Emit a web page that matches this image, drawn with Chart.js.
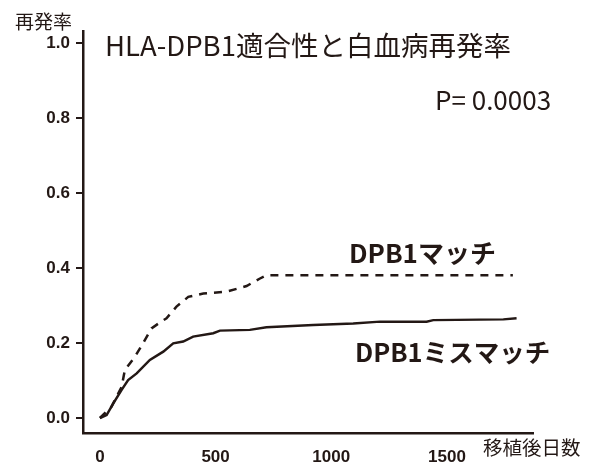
<!DOCTYPE html>
<html lang="ja">
<head>
  <meta charset="UTF-8" />
  <title>HLA-DPB1適合性と白血病再発率</title>
  <style>
    body { margin: 0; background: white; }
    #wrap { width: 593px; height: 463px; position: relative; }
  </style>
</head>
<body>
  <div id="wrap"><canvas id="chartCanvas"></canvas></div>

  <script src="https://cdn.jsdelivr.net/npm/chart.js"></script>
  <script>
    // data
    const matchDays = [0, 50, 94, 108, 151, 187, 223, 260, 288, 331, 382, 447, 548, 634, 692, 720, 1785];
    const matchRate = [0, 0.03, 0.083, 0.128, 0.163, 0.2, 0.239, 0.255, 0.266, 0.297, 0.323, 0.332, 0.337, 0.352, 0.372, 0.381, 0.381];
    const mismatchDays = [0, 29, 58, 94, 122, 159, 216, 274, 317, 360, 403, 490, 519, 648, 720, 922, 1095, 1211, 1412, 1441, 1744, 1801];
    const mismatchRate = [0, 0.008, 0.039, 0.075, 0.101, 0.119, 0.155, 0.177, 0.199, 0.204, 0.217, 0.226, 0.233, 0.235, 0.242, 0.248, 0.252, 0.257, 0.257, 0.261, 0.263, 0.266];
    const xTicks = [0, 500, 1000, 1500];
    const yTicks = [0, 0.2, 0.4, 0.6, 0.8, 1.0];

    const ink = '#231815';
    const jp = '"Noto Sans CJK JP", "Noto Sans", sans-serif';
    const tickFont = { family: 'Liberation Sans', size: 17, weight: 'bold' };

    function toPoints(xs, ys) {
      return xs.map((x, i) => ({ x: x, y: ys[i] }));
    }

    // titles and curve labels
    const labels = {
      id: 'labels',
      afterDraw(chart) {
        const c = chart.ctx;
        c.save();
        c.fillStyle = ink;
        c.textBaseline = 'middle';
        c.textAlign = 'left';
        c.font = '27.5px ' + jp;
        c.fillText('HLA-DPB1適合性と白血病再発率', 105, 46);
        c.font = '26px ' + jp;
        c.fillText('P= 0.0003', 435, 100);
        c.font = '19px ' + jp;
        c.fillText('再発率', 15, 22);
        c.font = '19.5px ' + jp;
        c.fillText('移植後日数', 483, 448);
        c.font = 'bold 26px ' + jp;
        c.fillText('DPB1マッチ', 349, 253);
        c.font = 'bold 25.5px ' + jp;
        c.fillText('DPB1ミスマッチ', 355, 352);
        c.restore();
      }
    };

    const ctx = document.getElementById('chartCanvas').getContext('2d');
    const chart = new Chart(ctx, {
      type: 'line',
      data: {
        datasets: [{
          label: 'DPB1マッチ',
          data: toPoints(matchDays, matchRate),
          borderColor: ink,
          borderWidth: 2.5,
          borderDash: [8, 7],
          pointRadius: 0,
          fill: false
        }, {
          label: 'DPB1ミスマッチ',
          data: toPoints(mismatchDays, mismatchRate),
          borderColor: ink,
          borderWidth: 2.5,
          pointRadius: 0,
          fill: false
        }]
      },
      options: {
        responsive: true,
        maintainAspectRatio: false,
        animation: false,
        layout: { padding: { top: 31, right: 60, left: 0, bottom: 0 } },
        plugins: {
          legend: { display: false },
          tooltip: { enabled: false }
        },
        scales: {
          x: {
            type: 'linear',
            min: -73,
            max: 1872,
            afterFit(s) { s.height = 30; },
            afterBuildTicks(s) { s.ticks = xTicks.map(v => ({ value: v })); },
            grid: { display: false },
            border: { display: true, color: ink, width: 2.5 },
            ticks: {
              color: ink,
              padding: 6,
              maxRotation: 0,
              callback: v => String(v),
              font: tickFont
            }
          },
          y: {
            min: -0.04,
            max: 1.032,
            afterFit(s) { s.width = 83; },
            afterBuildTicks(s) { s.ticks = yTicks.map(v => ({ value: v })); },
            grid: { display: true, drawOnChartArea: false, drawTicks: true, tickLength: 7, color: ink, lineWidth: 2 },
            border: { display: true, color: ink, width: 2.5 },
            ticks: {
              color: ink,
              padding: 6,
              callback: v => v.toFixed(1),
              font: tickFont
            }
          }
        }
      },
      plugins: [labels]
    });
  </script>
</body>
</html>
